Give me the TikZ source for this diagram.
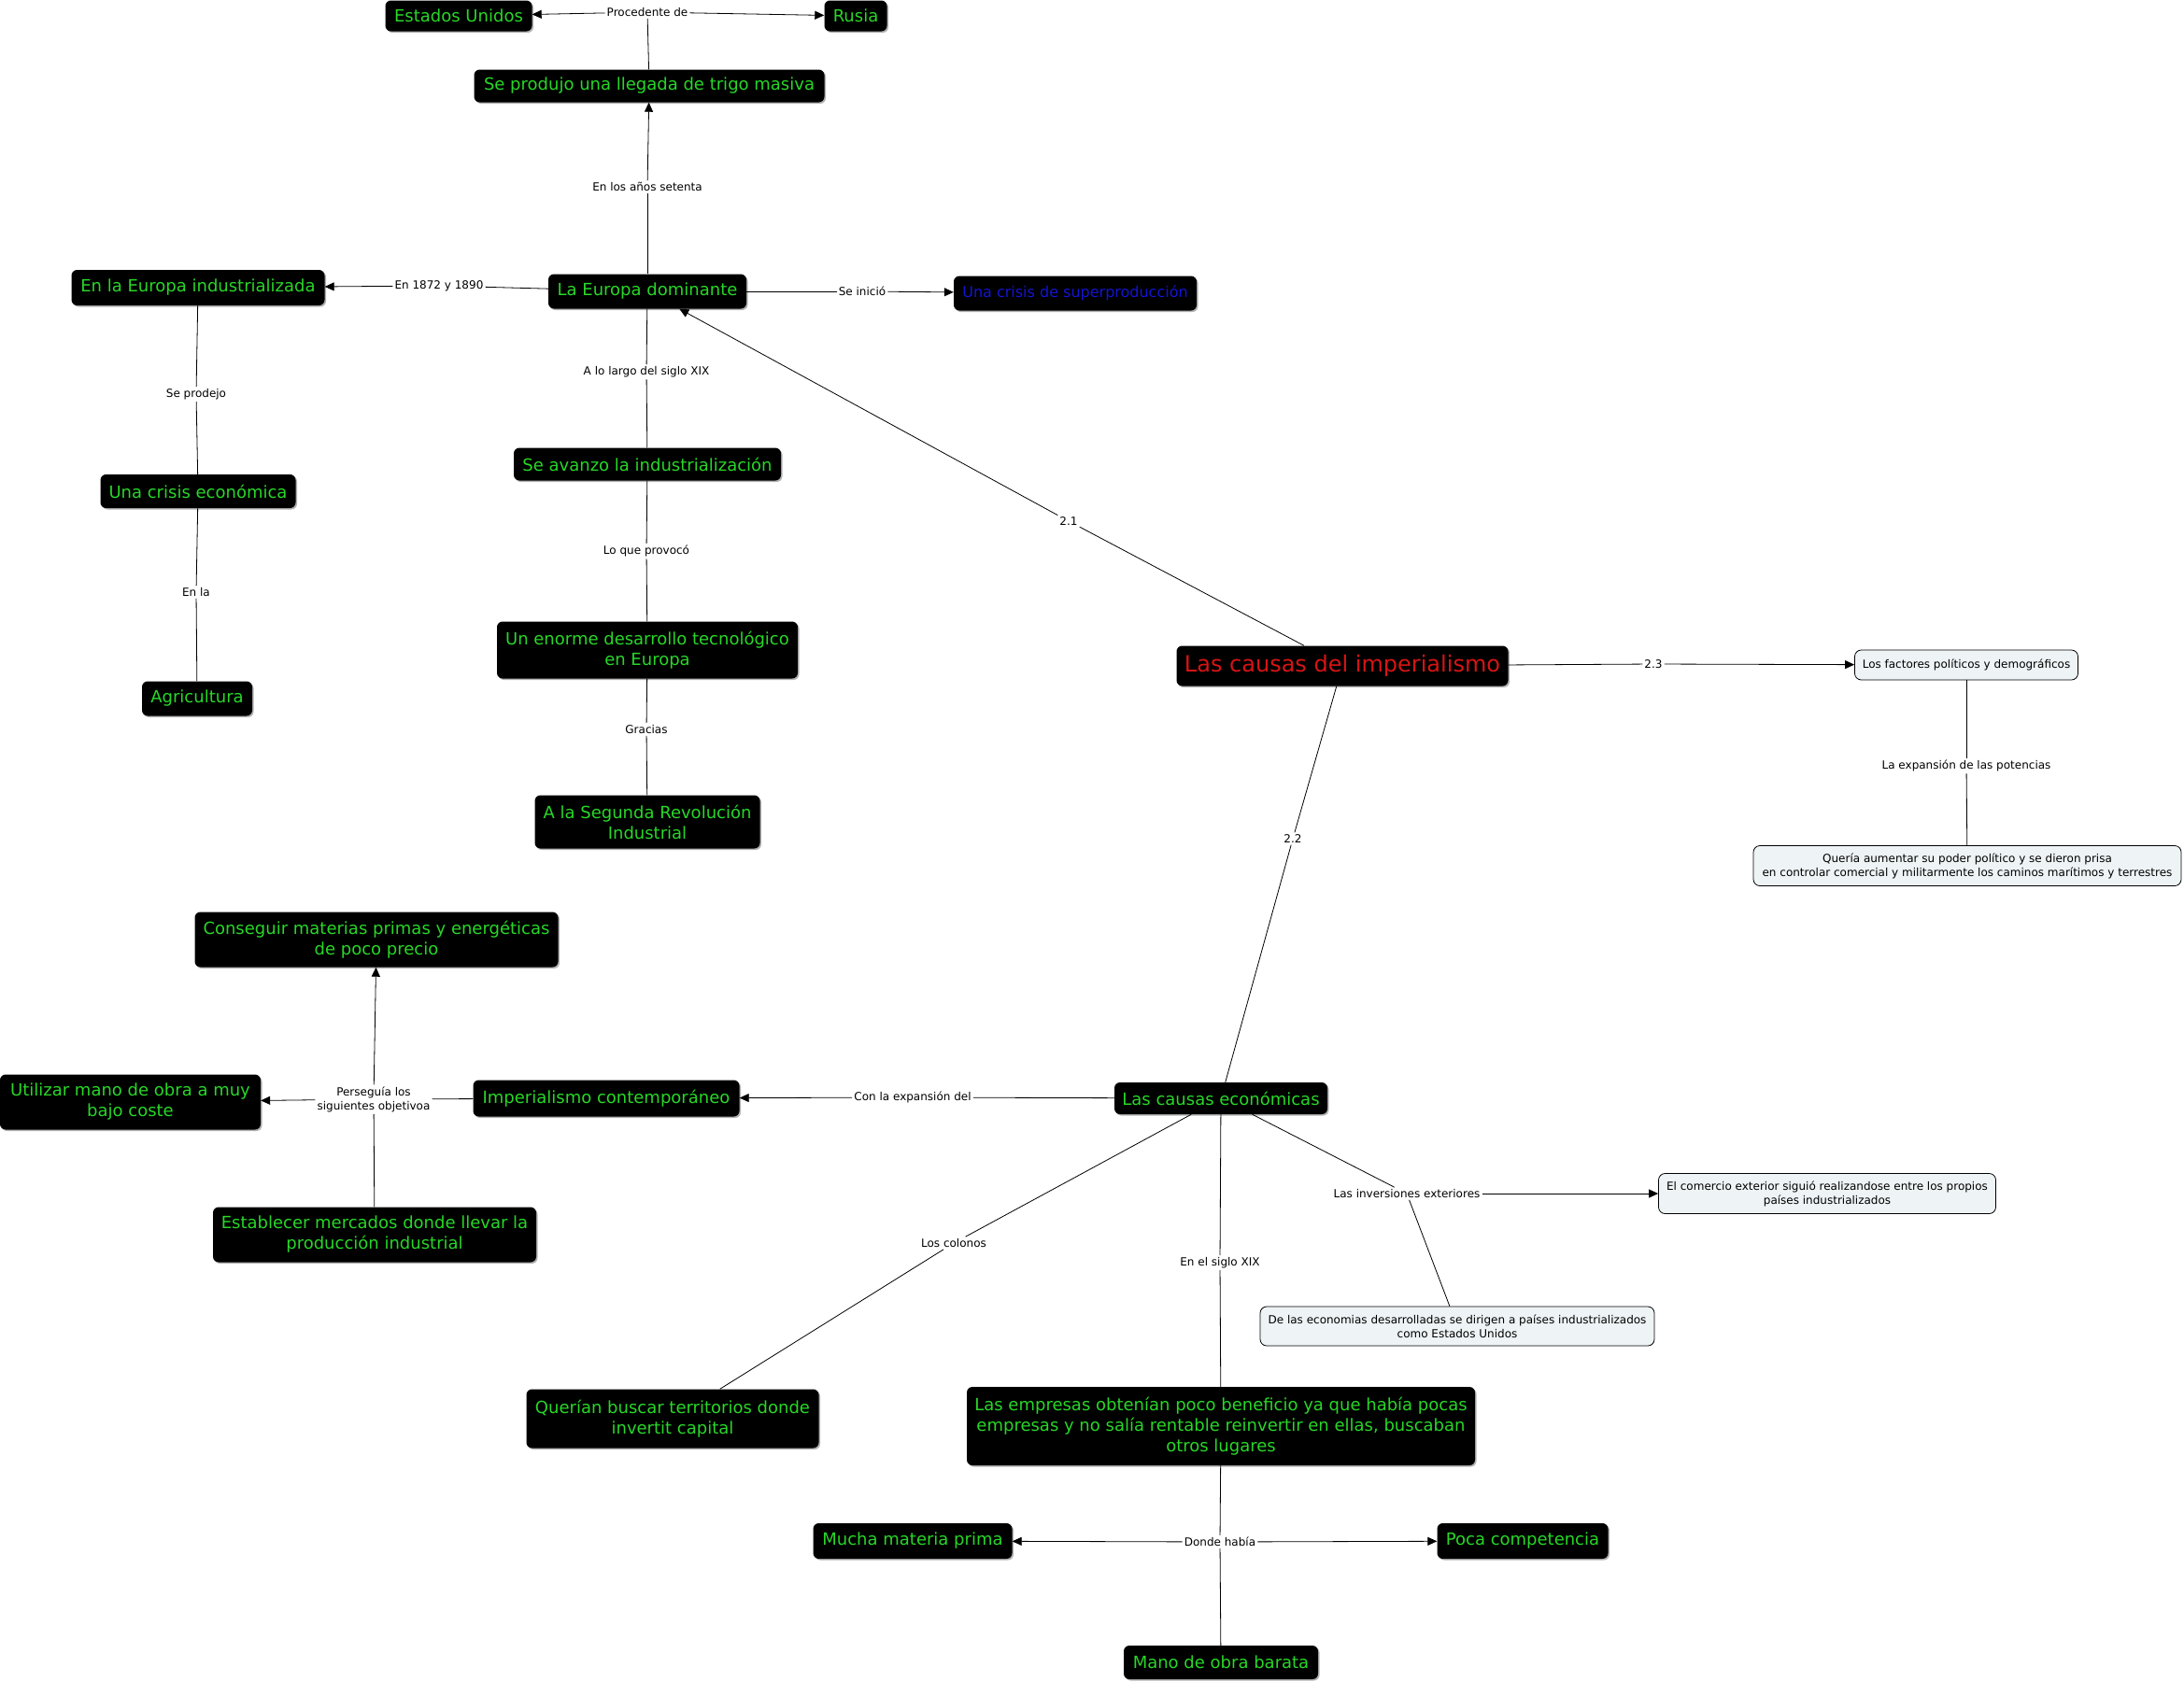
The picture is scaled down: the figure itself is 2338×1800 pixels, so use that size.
\documentclass[tikz,border=0pt]{standalone}
\usepackage{fontspec}
\setmainfont{DejaVu Sans}
\usetikzlibrary{arrows.meta,shadows}
\definecolor{cgreen}{RGB}{40,215,40}
\definecolor{cred}{RGB}{215,20,20}
\definecolor{cblue}{RGB}{20,20,210}
\definecolor{boxfill}{RGB}{238,243,245}
\tikzset{
  cnode/.style={fill=black, rounded corners=6pt, text=cgreen, align=center,
    font=\fontsize{18}{22}\selectfont, inner sep=1pt,
    drop shadow={shadow xshift=1.5pt, shadow yshift=-1.5pt, fill=gray!60, opacity=1}},
  bnode/.style={fill=boxfill, draw=black, line width=0.8pt, rounded corners=7pt, align=center,
    font=\fontsize{12}{15}\selectfont, inner sep=1pt},
  lnode/.style={fill=white, align=center, font=\fontsize{12}{15}\selectfont, inner sep=2pt},
  conn/.style={draw=black, line width=0.8pt},
  arr/.style={conn, -{Triangle[length=10pt,width=9pt]}},
}
\begin{document}
\begin{tikzpicture}[x=1pt,y=-1pt]
\useasboundingbox (0,0) rectangle (2338,1800);
% concept nodes
\node[cnode, minimum width=157pt, minimum height=33pt] (eeuu) at (491,17) {Estados Unidos};
\node[cnode, minimum width=67pt, minimum height=33pt] (rusia) at (916,17) {Rusia};
\node[cnode, minimum width=375pt, minimum height=35pt] (trigo) at (695,92) {Se produjo una llegada de trigo masiva};
\node[cnode, minimum width=212pt, minimum height=37pt] (europa) at (693,312) {La Europa dominante};
\node[cnode, minimum width=271pt, minimum height=38pt] (europaind) at (212,308) {En la Europa industrializada};
\node[cnode, minimum width=260pt, minimum height=37pt, text=cblue, font=\fontsize{16}{20}\selectfont] (superprod) at (1151,314) {Una crisis de superproducción};
\node[cnode, minimum width=286pt, minimum height=35pt] (avanzo) at (693,497) {Se avanzo la industrialización};
\node[cnode, minimum width=322pt, minimum height=61pt] (enorme) at (693,696) {Un enorme desarrollo tecnológico\\en Europa};
\node[cnode, minimum width=241pt, minimum height=57pt] (segunda) at (693,880) {A la Segunda Revolución\\Industrial};
\node[cnode, minimum width=209pt, minimum height=36pt] (crisiseco) at (212,526) {Una crisis económica};
\node[cnode, minimum width=118pt, minimum height=37pt] (agri) at (211,748) {Agricultura};
\node[cnode, minimum width=355pt, minimum height=43pt, text=cred, font=\fontsize{24}{28}\selectfont] (causas) at (1437,713) {Las causas del imperialismo};
\node[bnode, minimum width=239pt, minimum height=32pt] (factores) at (2105,712) {Los factores políticos y demográficos};
\node[bnode, minimum width=458pt, minimum height=43pt] (queria) at (2106,927) {Quería aumentar su poder político y se dieron prisa\\en controlar comercial y militarmente los caminos marítimos y terrestres};
\node[cnode, minimum width=228pt, minimum height=34pt] (causaseco) at (1307,1176) {Las causas económicas};
\node[cnode, minimum width=285pt, minimum height=39pt] (imperialismo) at (649,1176) {Imperialismo contemporáneo};
\node[cnode, minimum width=389pt, minimum height=59pt] (conseguir) at (403,1006) {Conseguir materias primas y energéticas\\de poco precio};
\node[cnode, minimum width=279pt, minimum height=59pt] (utilizar) at (139.5,1180) {Utilizar mano de obra a muy\\bajo coste};
\node[cnode, minimum width=346pt, minimum height=59pt] (establecer) at (401,1322) {Establecer mercados donde llevar la\\producción industrial};
\node[cnode, minimum width=313pt, minimum height=63pt] (querian) at (720,1519) {Querían buscar territorios donde\\invertit capital};
\node[cnode, minimum width=544pt, minimum height=84pt] (empresas) at (1307,1527) {Las empresas obtenían poco beneficio ya que había pocas\\empresas y no salía rentable reinvertir en ellas, buscaban\\otros lugares};
\node[bnode, minimum width=361pt, minimum height=43pt] (comercio) at (1956,1278) {El comercio exterior siguió realizandose entre los propios\\países industrializados};
\node[bnode, minimum width=422pt, minimum height=42pt] (economias) at (1560,1420) {De las economias desarrolladas se dirigen a países industrializados\\como Estados Unidos};
\node[cnode, minimum width=213pt, minimum height=38pt] (mucha) at (977,1650) {Mucha materia prima};
\node[cnode, minimum width=183pt, minimum height=38pt] (poca) at (1630,1650) {Poca competencia};
\node[cnode, minimum width=208pt, minimum height=36pt] (mano) at (1307,1780) {Mano de obra barata};
% linking phrases
\node[lnode] (lproc) at (693,13) {Procedente de};
\node[lnode] (lanos) at (693,200) {En los años setenta};
\node[lnode] (l1872) at (470,306) {En 1872 y 1890};
\node[lnode] (linicio) at (923,312) {Se inició};
\node[lnode] (llargo) at (692,398) {A lo largo del siglo XIX};
\node[lnode] (lprovoco) at (692,590) {Lo que provocó};
\node[lnode] (lgracias) at (692,781) {Gracias};
\node[lnode] (lprodejo) at (210,422) {Se prodejo};
\node[lnode] (lenla) at (210,634) {En la};
\node[lnode] (l21) at (1144,558) {2.1};
\node[lnode] (l23) at (1770,711) {2.3};
\node[lnode] (lexpansion) at (2105,820) {La expansión de las potencias};
\node[lnode] (l22) at (1384,898) {2.2};
\node[lnode] (lcon) at (977,1175) {Con la expansión del};
\node[lnode] (lpersegu) at (400,1177) {Perseguía los\\siguientes objetivoa};
\node[lnode] (lcolonos) at (1021,1331) {Los colonos};
\node[lnode] (lsiglo) at (1306,1352) {En el siglo XIX};
\node[lnode] (linversiones) at (1506,1278) {Las inversiones exteriores};
\node[lnode] (ldonde) at (1306,1651) {Donde había};
% connectors
\draw[conn] (trigo) -- (lproc);
\draw[arr] (lproc) -- (eeuu);
\draw[arr] (lproc) -- (rusia);
\draw[conn] (europa) -- (lanos);
\draw[arr] (lanos) -- (trigo);
\draw[conn] (europa) -- (l1872);
\draw[arr] (l1872) -- (europaind);
\draw[conn] (europa) -- (linicio);
\draw[arr] (linicio) -- (superprod);
\draw[conn] (europa) -- (llargo);
\draw[conn] (llargo) -- (avanzo);
\draw[conn] (avanzo) -- (lprovoco);
\draw[conn] (lprovoco) -- (enorme);
\draw[conn] (enorme) -- (lgracias);
\draw[conn] (lgracias) -- (segunda);
\draw[conn] (europaind) -- (lprodejo);
\draw[conn] (lprodejo) -- (crisiseco);
\draw[conn] (crisiseco) -- (lenla);
\draw[conn] (lenla) -- (agri);
\draw[conn] (causas) -- (l21);
\draw[arr] (l21) -- (europa);
\draw[conn] (causas) -- (l23);
\draw[arr] (l23) -- (factores);
\draw[conn] (factores) -- (lexpansion);
\draw[conn] (lexpansion) -- (queria);
\draw[conn] (causas) -- (l22);
\draw[conn] (l22) -- (causaseco);
\draw[conn] (causaseco) -- (lcon);
\draw[arr] (lcon) -- (imperialismo);
\draw[conn] (imperialismo) -- (lpersegu);
\draw[arr] (lpersegu) -- (conseguir);
\draw[arr] (lpersegu) -- (utilizar);
\draw[conn] (lpersegu) -- (establecer);
\draw[conn] (causaseco) -- (lcolonos);
\draw[conn] (lcolonos) -- (querian);
\draw[conn] (causaseco) -- (lsiglo);
\draw[conn] (lsiglo) -- (empresas);
\draw[conn] (causaseco) -- (linversiones);
\draw[arr] (linversiones) -- (comercio);
\draw[conn] (linversiones) -- (economias);
\draw[conn] (empresas) -- (ldonde);
\draw[arr] (ldonde) -- (mucha);
\draw[arr] (ldonde) -- (poca);
\draw[conn] (ldonde) -- (mano);
\end{tikzpicture}
\end{document}
